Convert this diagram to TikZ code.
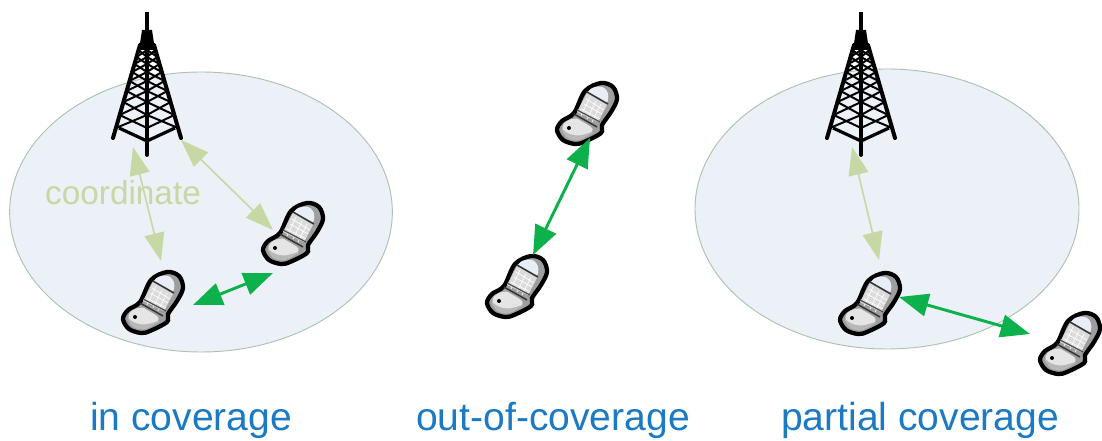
\documentclass[tikz,border=0pt]{standalone}
\usepackage{fontspec}
\setmainfont{Liberation Sans}
\usepackage{xcolor}
\usetikzlibrary{shapes.geometric, arrows.meta, calc}
\definecolor{cellfill}{RGB}{236, 240, 247}
\definecolor{celledge}{RGB}{170, 195, 178}
\definecolor{softgreen}{RGB}{198, 216, 164}
\definecolor{sidegreen}{RGB}{13, 177, 75}
\definecolor{labelblue}{RGB}{27, 122, 194}
\definecolor{bulbfill}{RGB}{232, 237, 247}

\begin{document}
\begin{tikzpicture}[
    x=0.75pt, y=-0.75pt,
    cell/.style={ellipse, draw=celledge, fill=cellfill, line width=0.7pt, inner sep=0pt},
    caption/.style={font=\fontsize{29.3}{32}\selectfont, text=labelblue, inner sep=0pt},
    hint/.style={font=\fontsize{25}{28}\selectfont, text=softgreen, inner sep=0pt},
    spot/.style={circle, inner sep=0pt, minimum size=2pt},
    softlink/.style={{Triangle[length=21pt, width=15pt]}-{Triangle[length=21pt, width=15pt]}, line width=1.2pt, draw=softgreen, fill=softgreen},
    sidelink/.style={{Triangle[length=22pt, width=17pt]}-{Triangle[length=22pt, width=17pt]}, line width=2.2pt, draw=sidegreen, fill=sidegreen},
    tower/.pic={
        \draw[line width=3.2pt] (0,12) -- (0,32);
        \fill (-5,30) -- (5,30) -- (8,50) -- (-8,50) -- cycle;
        \draw[line width=3pt, line cap=round] (-7,45) -- (-34,138);
        \draw[line width=3pt, line cap=round] (7,45) -- (34,138);
        \draw[line width=2.8pt, line cap=round] (0,45) -- (0,155);
        \draw[line width=2.4pt] (-28,128) -- (0,141) -- (28,128);
        \foreach \ya/\yb in {50/57, 57/64, 64/72, 72/81, 81/91, 91/102, 102/115, 115/128} {
            \pgfmathsetmacro{\wa}{7+(\ya-45)*27/93}
            \pgfmathsetmacro{\wb}{7+(\yb-45)*27/93}
            \draw[line width=1.5pt] (-\wa,\ya) -- (0,\yb) -- (\wa,\ya);
            \draw[line width=1.5pt] (-\wb,\yb) -- (0,\ya) -- (\wb,\yb);
        }
    },
    phone/.pic={
        \draw[line width=3.2pt, fill=black!38] plot[smooth cycle, tension=0.55] coordinates
            {(14,-31) (26,-27) (30,-15) (24,-2) (15,11) (14,19) (-3,28) (-12,30) (-24,26) (-30,16) (-25,7) (-13,-1) (-2,-23)};
        \fill[black!10, rounded corners=5pt] (-27,12) -- (-14,3) -- (-7,6) -- (9,16) -- (-8,25) -- (-20,24) -- cycle;
        \fill[black!28, rounded corners=3pt] (-27,13) -- (-20,25) -- (-8,27) -- (9,17) -- (-8,22) -- (-19,20) -- cycle;
        \fill[black!14] (-10,-2) -- (0,-21) -- (20,-9) -- (11,8) -- cycle;
        \draw[white, line width=0.5pt] (-6,-5) -- (13,5) (-3,-10) -- (15,0) (-1,-15) -- (17,-4)
            (3,-17) -- (-6,2) (9,-13) -- (0,5) (14,-10) -- (5,8);
        \fill[bulbfill] (8,-27) .. controls (19,-30) and (24,-20) .. (20,-11) -- (1,-22) .. controls (2,-24) and (4,-26) .. (8,-27) -- cycle;
        \draw[black!80, line width=1.1pt] (0,-22) -- (21,-10);
        \draw[black!80, line width=1.1pt] (-13,0) -- (10,13);
        \draw[black!70, line width=0.9pt] (-10,-4) -- (13,8);
        \fill (-18,14) circle (1.5pt);
    }
]
    \useasboundingbox (0,0) rectangle (1102,441);

    \node[cell, minimum width=287pt, minimum height=210pt] (cellA) at (201,212) {};
    \node[cell, minimum width=288pt, minimum height=210pt] (cellC) at (887,209) {};

    \node[spot] (towerA) at (147,155) {};
    \node[spot] (towerC) at (861,155) {};
    \pic at (147,0) {tower};
    \pic at (861,0) {tower};

    \node[hint] (coordinate) at (123,193) {coordinate};

    \node[spot] (phoneA) at (153,303) {};
    \node[spot] (phoneB) at (293,234) {};
    \node[spot] (phoneD) at (587,114) {};
    \node[spot] (phoneE) at (517,287) {};
    \node[spot] (phoneF) at (870,304) {};
    \node[spot] (phoneG) at (1070,344) {};
    \pic at (phoneA) {phone};
    \pic at (phoneB) {phone};
    \pic at (phoneD) {phone};
    \pic at (phoneE) {phone};
    \pic at (phoneF) {phone};
    \pic at (phoneG) {phone};

    \coordinate (towerAleft) at ($(towerA)+(-14,-8)$);
    \coordinate (towerAright) at ($(towerA)+(34,-15)$);
    \coordinate (towerCdown) at ($(towerC)+(-9,-8)$);
    \coordinate (phoneAup) at ($(phoneA)+(8,-42)$);
    \coordinate (phoneAside) at ($(phoneA)+(40,2)$);
    \coordinate (phoneBup) at ($(phoneB)+(-20,-4)$);
    \coordinate (phoneBside) at ($(phoneB)+(-20,39)$);
    \coordinate (phoneDend) at ($(phoneD)+(3,24)$);
    \coordinate (phoneEend) at ($(phoneE)+(16,-32)$);
    \coordinate (phoneFup) at ($(phoneF)+(9,-44)$);
    \coordinate (phoneFside) at ($(phoneF)+(29,-7)$);
    \coordinate (phoneGside) at ($(phoneG)+(-40,-10)$);

    \draw[softlink] (towerAleft) -- (phoneAup);
    \draw[softlink] (towerAright) -- (phoneBup);
    \draw[softlink] (towerCdown) -- (phoneFup);
    \draw[sidelink] (phoneAside) -- (phoneBside);
    \draw[sidelink] (phoneDend) -- (phoneEend);
    \draw[sidelink] (phoneFside) -- (phoneGside);

    \node[caption] (incoverage) at (191,420) {in coverage};
    \node[caption] (outofcoverage) at (553,420) {out-of-coverage};
    \node[caption] (partialcoverage) at (920,420) {partial coverage};
\end{tikzpicture}
\end{document}
